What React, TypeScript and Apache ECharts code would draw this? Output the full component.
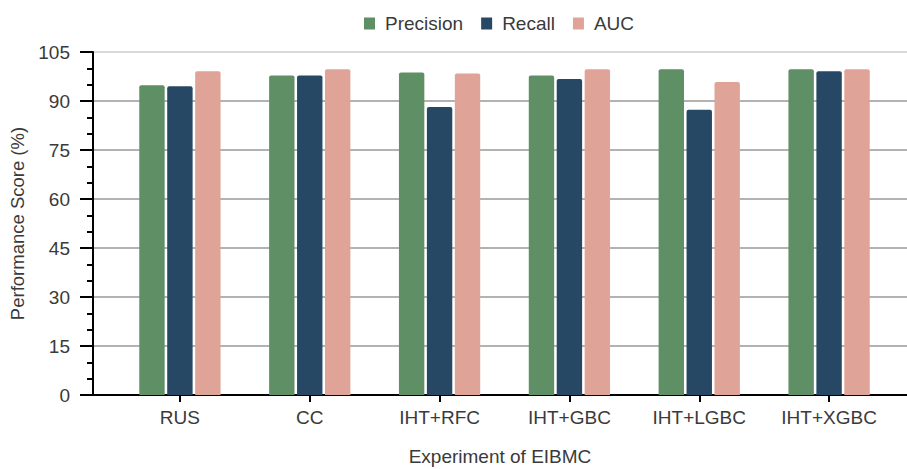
import React, { useEffect, useRef } from "react";
import * as echarts from "echarts";

const categories = ["RUS", "CC", "IHT+RFC", "IHT+GBC", "IHT+LGBC", "IHT+XGBC"];
const precision = [94.8, 97.8, 98.7, 97.8, 99.7, 99.7];
const recall = [94.5, 97.8, 88.2, 96.7, 87.3, 99.1];
const auc = [99.1, 99.7, 98.4, 99.7, 95.8, 99.7];
const seriesNames = ["Precision", "Recall", "AUC"];
const colors = ["#5f8f65", "#264864", "#e0a398"];

const FONT = "'Liberation Sans', Arial, Helvetica, sans-serif";
const TXT = "#3a3a3a";

export default function App() {
  const ref = useRef<HTMLDivElement>(null);
  useEffect(() => {
    if (!ref.current) return;
    const chart = echarts.init(ref.current, null, { renderer: "svg" });
    const gridTop = 52;
    const gridHeight = 343;
    const barStyle = (c: string) => ({ color: c, borderRadius: [2, 2, 0, 0] });
    chart.setOption({
      animation: false,
      textStyle: { fontFamily: FONT },
      legend: {
        left: 359,
        top: 9,
        icon: "rect",
        itemWidth: 11,
        itemHeight: 12,
        itemGap: 18,
        data: seriesNames,
        textStyle: { fontSize: 19, color: TXT, fontFamily: FONT, padding: [0, 0, 0, 5] },
      },
      grid: [
        { left: 93, right: 0, top: gridTop, height: gridHeight, outerBoundsMode: "none", containLabel: false },
        { left: 115, right: 13, top: gridTop, height: gridHeight, outerBoundsMode: "none", containLabel: false },
      ],
      xAxis: [
        {
          gridIndex: 0,
          type: "category",
          data: [""],
          axisLine: { show: true, lineStyle: { color: "#000", width: 2 } },
          axisTick: { show: false },
          axisLabel: { show: false },
          splitLine: { show: false },
          name: "Experiment of EIBMC",
          nameLocation: "middle",
          nameGap: 52,
          nameTextStyle: { fontSize: 19, color: TXT, fontFamily: FONT },
        },
        {
          gridIndex: 1,
          type: "category",
          data: categories,
          axisLine: { show: false },
          axisTick: { show: true, alignWithLabel: true, length: 7, lineStyle: { color: "#000", width: 2 } },
          axisLabel: { fontSize: 19, color: TXT, margin: 13, fontFamily: FONT },
        },
      ],
      yAxis: [
        {
          gridIndex: 0,
          type: "value",
          min: 0,
          max: 105,
          interval: 15,
          axisLine: { show: true, lineStyle: { color: "#000", width: 2 } },
          axisTick: { show: true, length: 13, lineStyle: { color: "#000", width: 2 } },
          minorTick: { show: true, splitNumber: 3, length: 6, lineStyle: { color: "#000", width: 2 } },
          axisLabel: { fontSize: 19, color: TXT, margin: 23, fontFamily: FONT },
          splitLine: {
            show: true,
            lineStyle: {
              color: ["#999", "#999", "#999", "#999", "#999", "#999", "#999", "#ccc"],
              width: 1.5,
            },
          },
          name: "Performance Score (%)",
          nameLocation: "middle",
          nameGap: 62,
          nameTextStyle: { fontSize: 18.5, color: TXT, fontFamily: FONT },
        },
        {
          gridIndex: 1,
          type: "value",
          min: 0,
          max: 105,
          interval: 15,
          show: false,
          splitLine: { show: false },
        },
      ],
      series: [
        { name: seriesNames[0], type: "bar", data: precision, xAxisIndex: 1, yAxisIndex: 1, barWidth: 25.4, barGap: "10%", itemStyle: barStyle(colors[0]) },
        { name: seriesNames[1], type: "bar", data: recall, xAxisIndex: 1, yAxisIndex: 1, barWidth: 25.4, barGap: "10%", itemStyle: barStyle(colors[1]) },
        { name: seriesNames[2], type: "bar", data: auc, xAxisIndex: 1, yAxisIndex: 1, barWidth: 25.4, barGap: "10%", itemStyle: barStyle(colors[2]) },
      ],
    });
    return () => chart.dispose();
  }, []);
  return <div ref={ref} style={{ width: 907, height: 469, position: "absolute", left: 0, top: 0 }} />;
}
